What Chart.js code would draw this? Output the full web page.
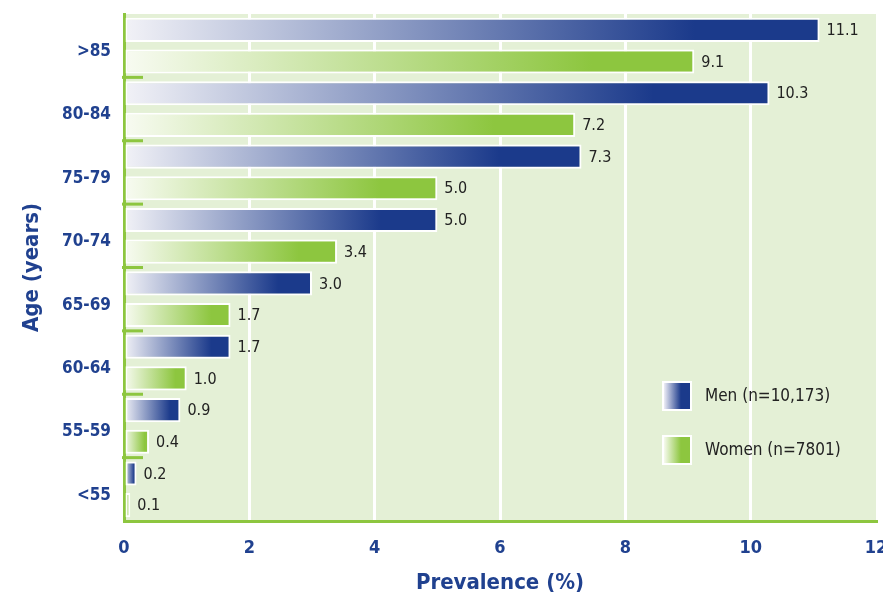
<!DOCTYPE html>
<html>
<head>
<meta charset="utf-8">
<script src="https://cdn.jsdelivr.net/npm/chart.js@4"></script>
<style>
  html, body { margin: 0; padding: 0; background: #fff; }
  #wrap { width: 883px; height: 599px; }
</style>
</head>
<body>
<div id="wrap"><canvas id="barChart" width="883" height="599"></canvas></div>
<script>
// data (top to bottom as in the figure)
var ageGroups = [">85", "80-84", "75-79", "70-74", "65-69", "60-64", "55-59", "<55"];
var menValues = [11.1, 10.3, 7.3, 5.0, 3.0, 1.7, 0.9, 0.2];
var womenValues = [9.1, 7.2, 5.0, 3.4, 1.7, 1.0, 0.4, 0.1];
var xTicks = [0, 2, 4, 6, 8, 10, 12];
var legendLabels = ["Men (n=10,173)", "Women (n=7801)"];

var FONT = "'Liberation Sans Narrow', 'DejaVu Sans Condensed', 'Noto Sans', sans-serif";
var NAVY = "#1b3a8b";
var GREEN = "#8dc63f";
var AXIS_TEXT = "#20418f";

function barFill(c, light, dark) {
    var chart = c.chart;
    if (!chart.chartArea || !chart.scales.x) return dark;
    var xs = chart.scales.x;
    var x0 = xs.getPixelForValue(0);
    var x1 = xs.getPixelForValue(c.raw);
    if (x1 - x0 < 1) x1 = x0 + 1;
    var g = chart.ctx.createLinearGradient(x0, 0, x1, 0);
    g.addColorStop(0, light);
    g.addColorStop(0.82, dark);
    g.addColorStop(1, dark);
    return g;
}

// light green plot background
var plotBg = {
    id: "plotBg",
    beforeDraw: function (chart) {
        var a = chart.chartArea, ctx = chart.ctx;
        ctx.save();
        ctx.fillStyle = "#e4f0d6";
        ctx.fillRect(a.left, a.top, a.right - a.left, a.bottom - a.top);
        ctx.restore();
    }
};

// short green marks between age groups, pointing into the plot
var groupMarks = {
    id: "groupMarks",
    afterDatasetsDraw: function (chart) {
        var ys = chart.scales.y, a = chart.chartArea, ctx = chart.ctx;
        ctx.save();
        ctx.strokeStyle = GREEN;
        ctx.lineWidth = 3;
        for (var i = 1; i < ageGroups.length; i++) {
            var y = (ys.getPixelForValue(i - 1) + ys.getPixelForValue(i)) / 2;
            ctx.beginPath();
            ctx.moveTo(a.left - 2, y);
            ctx.lineTo(a.left + 19, y);
            ctx.stroke();
        }
        ctx.restore();
    }
};

// value labels at bar ends
var valueLabels = {
    id: "valueLabels",
    afterDatasetsDraw: function (chart) {
        var ctx = chart.ctx;
        ctx.save();
        ctx.font = "16px " + FONT;
        ctx.fillStyle = "#222";
        ctx.textAlign = "left";
        ctx.textBaseline = "middle";
        chart.data.datasets.forEach(function (ds, di) {
            chart.getDatasetMeta(di).data.forEach(function (el, i) {
                ctx.fillText(ds.data[i].toFixed(1), el.x + 7, el.y + 1);
            });
        });
        ctx.restore();
    }
};

// legend drawn inside the plot area
var innerLegend = {
    id: "innerLegend",
    afterDraw: function (chart) {
        var ctx = chart.ctx;
        var sx = 662;
        var rows = [[381, "#eeeef6", NAVY], [435, "#f6faee", GREEN]];
        ctx.save();
        rows.forEach(function (r, i) {
            var y = r[0];
            ctx.fillStyle = "#fff";
            ctx.fillRect(sx, y, 30, 30);
            var g = ctx.createLinearGradient(sx + 2, 0, sx + 28, 0);
            g.addColorStop(0, r[1]);
            g.addColorStop(0.65, r[2]);
            g.addColorStop(1, r[2]);
            ctx.fillStyle = g;
            ctx.fillRect(sx + 2, y + 2, 26, 26);
            ctx.font = "17px " + FONT;
            ctx.fillStyle = "#222";
            ctx.textBaseline = "middle";
            ctx.fillText(legendLabels[i], sx + 43, y + 16);
        });
        ctx.restore();
    }
};

new Chart(document.getElementById("barChart").getContext("2d"), {
    type: "bar",
    data: {
        labels: ageGroups,
        datasets: [{
            label: legendLabels[0],
            data: menValues,
            backgroundColor: function (c) { return barFill(c, "#f2f2f7", NAVY); },
            borderColor: "#fff",
            borderWidth: 2,
            borderSkipped: false,
            barPercentage: 0.76,
            categoryPercentage: 1.0
        }, {
            label: legendLabels[1],
            data: womenValues,
            backgroundColor: function (c) { return barFill(c, "#f8fbf2", GREEN); },
            borderColor: "#fff",
            borderWidth: 2,
            borderSkipped: false,
            barPercentage: 0.76,
            categoryPercentage: 1.0
        }]
    },
    options: {
        indexAxis: "y",
        responsive: false,
        animation: false,
        layout: { padding: { top: 14, right: 7, left: 0, bottom: 0 } },
        plugins: {
            legend: { display: false },
            tooltip: { enabled: false }
        },
        scales: {
            x: {
                min: 0,
                max: 12,
                afterBuildTicks: function (s) {
                    s.ticks = xTicks.map(function (v) { return { value: v }; });
                },
                afterFit: function (s) {
                    s.height = 78;
                    s.paddingLeft = 0;
                    s.paddingRight = 0;
                },
                grid: {
                    color: function (c) {
                        return (c.tick && (c.tick.value === 0 || c.tick.value === 12)) ? "rgba(0,0,0,0)" : "#fff";
                    },
                    lineWidth: 3,
                    drawTicks: false
                },
                border: { color: GREEN, width: 3 },
                ticks: {
                    color: AXIS_TEXT,
                    font: { family: FONT, size: 18, weight: "bold" },
                    padding: 17
                },
                title: {
                    display: true,
                    text: "Prevalence (%)",
                    color: AXIS_TEXT,
                    font: { family: FONT, size: 22, weight: "bold" },
                    padding: { top: 0, bottom: 3 }
                }
            },
            y: {
                afterFit: function (s) {
                    s.width = 124;
                    s.paddingTop = 0;
                    s.paddingBottom = 0;
                },
                grid: { display: false, drawTicks: false },
                border: { color: GREEN, width: 3 },
                ticks: {
                    color: AXIS_TEXT,
                    font: { family: FONT, size: 17, weight: "bold" },
                    padding: 13,
                    labelOffset: 6
                },
                title: {
                    display: true,
                    text: "Age (years)",
                    color: AXIS_TEXT,
                    font: { family: FONT, size: 22, weight: "bold" },
                    padding: { top: 19, bottom: 0 }
                }
            }
        }
    },
    plugins: [plotBg, groupMarks, valueLabels, innerLegend]
});
</script>
</body>
</html>
